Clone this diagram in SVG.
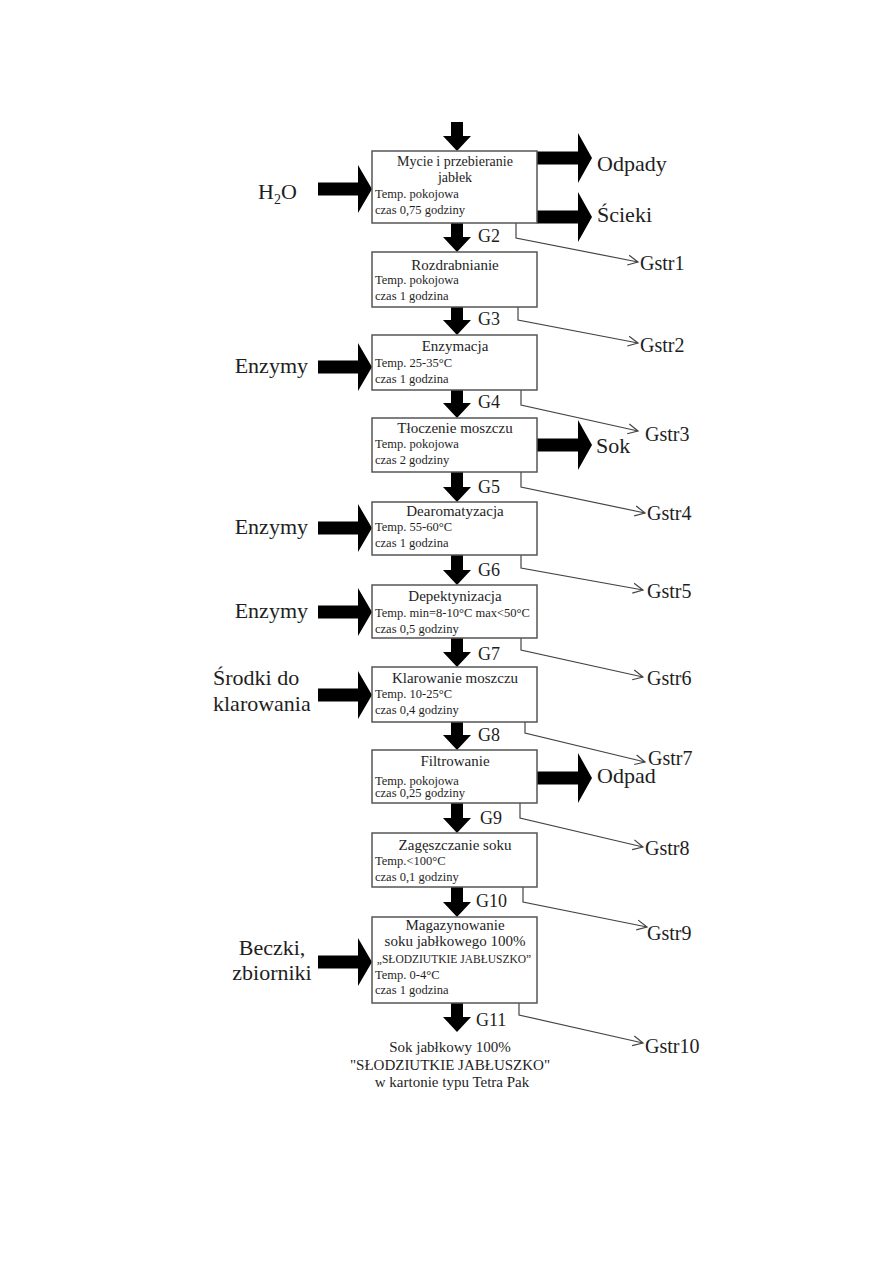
<svg xmlns="http://www.w3.org/2000/svg" width="893" height="1263" viewBox="0 0 893 1263">
<style>
text{font-family:"Liberation Serif","Times New Roman",serif;fill:#1e1e1e}
.box{fill:#fff;stroke:#555;stroke-width:1.5}
.t{font-size:15px;text-anchor:middle}
.t14{font-size:14px;text-anchor:middle}
.s{font-size:12.5px}
.caps{font-size:11.5px;text-anchor:middle}
.big{font-size:22px}
.g{font-size:18px}
.gs{font-size:20px}
.fin{font-size:15px;text-anchor:middle}
.blk{fill:#000}
.thin{fill:none;stroke:#444;stroke-width:1.2}
</style>
<defs>
<marker id="open" markerUnits="userSpaceOnUse" markerWidth="12" markerHeight="12" refX="10" refY="5" orient="auto" viewBox="0 0 12 10">
<path d="M0,0 L10,5 L0,10" fill="none" stroke="#444" stroke-width="1.2"/>
</marker>
</defs>
<rect width="893" height="1263" fill="#fff"/>

<g id="connectors">
<path class="blk" d="M451,122 H463 V136 H471 L457,151 L443,136 H451 Z"/>
<path class="blk" d="M451,223 H463 V237 H471 L457,252 L443,237 H451 Z"/>
<path class="blk" d="M451,307 H463 V320 H471 L457,335 L443,320 H451 Z"/>
<path class="blk" d="M451,390 H463 V403 H471 L457,418 L443,403 H451 Z"/>
<path class="blk" d="M451,472 H463 V487 H471 L457,502 L443,487 H451 Z"/>
<path class="blk" d="M451,555 H463 V570 H471 L457,585 L443,570 H451 Z"/>
<path class="blk" d="M451,638 H463 V652 H471 L457,667 L443,652 H451 Z"/>
<path class="blk" d="M451,722 H463 V735 H471 L457,750 L443,735 H451 Z"/>
<path class="blk" d="M451,803 H463 V818 H471 L457,833 L443,818 H451 Z"/>
<path class="blk" d="M451,887 H463 V902 H471 L457,917 L443,902 H451 Z"/>
<path class="blk" d="M451,1003 H463 V1017 H471 L457,1032 L443,1017 H451 Z"/>

<path class="blk" d="M318,182.5 H358 V165 L372,189 L358,213 V195.5 H318 Z"/>
<path class="blk" d="M318,360.5 H358 V343 L372,367 L358,391 V373.5 H318 Z"/>
<path class="blk" d="M318,521.5 H358 V504 L372,528 L358,552 V534.5 H318 Z"/>
<path class="blk" d="M318,605.5 H358 V588 L372,612 L358,636 V618.5 H318 Z"/>
<path class="blk" d="M318,688.5 H358 V671 L372,695 L358,719 V701.5 H318 Z"/>
<path class="blk" d="M318,955.5 H358 V938 L372,962 L358,986 V968.5 H318 Z"/>

<path class="blk" d="M537,151.5 H578 V133 L592,158 L578,183 V164.5 H537 Z"/>
<path class="blk" d="M537,210.5 H578 V192 L592,217 L578,242 V223.5 H537 Z"/>
<path class="blk" d="M537,438.5 H578 V420 L592,445 L578,470 V451.5 H537 Z"/>
<path class="blk" d="M537,771.5 H578 V753 L592,778 L578,803 V784.5 H537 Z"/>

<polyline class="thin" marker-end="url(#open)" points="516,223 516,238 638,262"/>
<polyline class="thin" marker-end="url(#open)" points="518,307 518,320 638,343"/>
<polyline class="thin" marker-end="url(#open)" points="521,390 521,405 638,431"/>
<polyline class="thin" marker-end="url(#open)" points="521,472 521,487 645,513"/>
<polyline class="thin" marker-end="url(#open)" points="521,555 521,568 643,590"/>
<polyline class="thin" marker-end="url(#open)" points="521,638 521,650 643,677"/>
<polyline class="thin" marker-end="url(#open)" points="525,722 525,733 645,762"/>
<polyline class="thin" marker-end="url(#open)" points="520,803 520,818 643,847"/>
<polyline class="thin" marker-end="url(#open)" points="523,887 523,902 647,927"/>
<polyline class="thin" marker-end="url(#open)" points="519,1003 519,1015 643,1043"/>
</g>

<g id="box1">
<rect class="box" x="372" y="151" width="165" height="72"/>
<text class="t14" x="455" y="166">Mycie i przebieranie</text>
<text class="t14" x="455" y="182">jabłek</text>
<text class="s" x="375" y="198">Temp. pokojowa</text>
<text class="s" x="375" y="214">czas 0,75 godziny</text>
</g>
<g id="box2">
<rect class="box" x="372" y="252" width="165" height="55"/>
<text class="t" x="455" y="270">Rozdrabnianie</text>
<text class="s" x="375" y="284">Temp. pokojowa</text>
<text class="s" x="375" y="300">czas 1 godzina</text>
</g>
<g id="box3">
<rect class="box" x="372" y="335" width="165" height="55"/>
<text class="t" x="455" y="351">Enzymacja</text>
<text class="s" x="375" y="367">Temp. 25-35°C</text>
<text class="s" x="375" y="383">czas 1 godzina</text>
</g>
<g id="box4">
<rect class="box" x="372" y="418" width="165" height="54"/>
<text class="t" x="455" y="433">Tłoczenie moszczu</text>
<text class="s" x="375" y="448">Temp. pokojowa</text>
<text class="s" x="375" y="464">czas 2 godziny</text>
</g>
<g id="box5">
<rect class="box" x="372" y="502" width="165" height="53"/>
<text class="t" x="455" y="516">Dearomatyzacja</text>
<text class="s" x="375" y="531">Temp. 55-60°C</text>
<text class="s" x="375" y="547">czas 1 godzina</text>
</g>
<g id="box6">
<rect class="box" x="372" y="585" width="165" height="53"/>
<text class="t" x="455" y="601">Depektynizacja</text>
<text class="s" x="375" y="617">Temp. min=8-10°C max&lt;50°C</text>
<text class="s" x="375" y="633">czas 0,5 godziny</text>
</g>
<g id="box7">
<rect class="box" x="372" y="667" width="165" height="55"/>
<text class="t" x="455" y="683">Klarowanie moszczu</text>
<text class="s" x="375" y="698">Temp. 10-25°C</text>
<text class="s" x="375" y="714">czas 0,4 godziny</text>
</g>
<g id="box8">
<rect class="box" x="372" y="750" width="165" height="53"/>
<text class="t" x="455" y="766">Filtrowanie</text>
<text class="s" x="375" y="785">Temp. pokojowa</text>
<text class="s" x="375" y="797">czas 0,25 godziny</text>
</g>
<g id="box9">
<rect class="box" x="372" y="833" width="165" height="54"/>
<text class="t" x="455" y="850">Zagęszczanie soku</text>
<text class="s" x="375" y="865">Temp.&lt;100°C</text>
<text class="s" x="375" y="881">czas 0,1 godziny</text>
</g>
<g id="box10">
<rect class="box" x="372" y="917" width="165" height="86"/>
<text class="t" x="455" y="930">Magazynowanie</text>
<text class="t" x="455" y="946">soku jabłkowego 100%</text>
<text class="caps" x="454" y="963">„SŁODZIUTKIE JABŁUSZKO”</text>
<text class="s" x="375" y="979">Temp. 0-4°C</text>
<text class="s" x="375" y="994">czas 1 godzina</text>
</g>

<g id="inputs">
<text class="big" x="258" y="199">H<tspan font-size="14" dy="5">2</tspan><tspan dy="-5">O</tspan></text>
<text class="big" x="308" y="373" text-anchor="end">Enzymy</text>
<text class="big" x="308" y="534" text-anchor="end">Enzymy</text>
<text class="big" x="308" y="618" text-anchor="end">Enzymy</text>
<text class="big" x="213" y="685">Środki do</text>
<text class="big" x="213" y="711">klarowania</text>
<text class="big" x="272" y="955" text-anchor="middle">Beczki,</text>
<text class="big" x="272" y="980" text-anchor="middle">zbiorniki</text>
</g>

<g id="outputs">
<text class="big" x="597" y="171">Odpady</text>
<text class="big" x="597" y="222">Ścieki</text>
<text class="big" x="596" y="453">Sok</text>
<text class="big" x="597" y="783">Odpad</text>
</g>

<g id="flow-labels">
<text class="g" x="478" y="242">G2</text>
<text class="g" x="478" y="325">G3</text>
<text class="g" x="478" y="408">G4</text>
<text class="g" x="478" y="493">G5</text>
<text class="g" x="478" y="576">G6</text>
<text class="g" x="478" y="660">G7</text>
<text class="g" x="478" y="741">G8</text>
<text class="g" x="480" y="824">G9</text>
<text class="g" x="476" y="907">G10</text>
<text class="g" x="476" y="1026">G11</text>
</g>

<g id="losses">
<text class="gs" x="640" y="270">Gstr1</text>
<text class="gs" x="640" y="352">Gstr2</text>
<text class="gs" x="645" y="441">Gstr3</text>
<text class="gs" x="647" y="520">Gstr4</text>
<text class="gs" x="647" y="598">Gstr5</text>
<text class="gs" x="647" y="685">Gstr6</text>
<text class="gs" x="648" y="765">Gstr7</text>
<text class="gs" x="645" y="855">Gstr8</text>
<text class="gs" x="647" y="940">Gstr9</text>
<text class="gs" x="645" y="1053">Gstr10</text>
</g>

<g id="product">
<text class="fin" x="450" y="1052">Sok jabłkowy 100%</text>
<text class="fin" x="450" y="1070">"SŁODZIUTKIE JABŁUSZKO"</text>
<text class="fin" x="452" y="1087">w kartonie typu Tetra Pak</text>
</g>
</svg>
